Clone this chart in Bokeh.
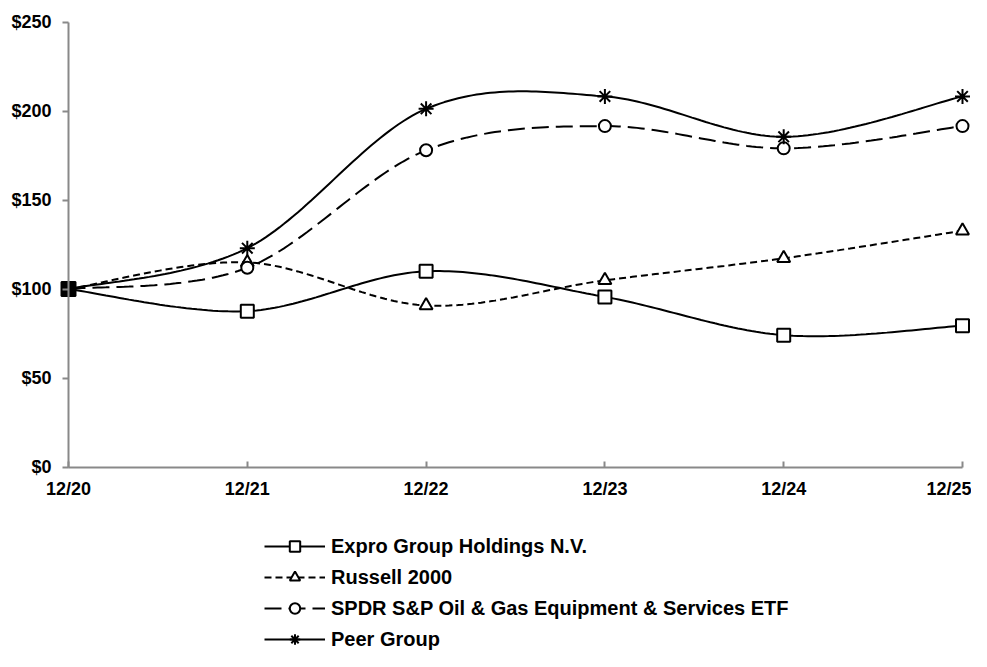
import numpy as np
from bokeh.plotting import figure
from bokeh.models import Range1d, FixedTicker, PrintfTickFormatter, Legend, LegendItem
from bokeh.embed import file_html
from bokeh.resources import INLINE

# ---- data ----
periods = ["12/20", "12/21", "12/22", "12/23", "12/24", "12/25"]
expro = [100, 87.6, 110.0, 95.6, 74.1, 79.4]
russell = [100, 115.0, 90.8, 104.9, 117.3, 132.8]
spdr = [100, 112.0, 178.0, 191.6, 179.1, 191.6]
peer = [100, 123.0, 201.3, 208.3, 185.6, 208.3]
names = ["Expro Group Holdings N.V.", "Russell 2000",
         "SPDR S&P Oil & Gas Equipment & Services ETF", "Peer Group"]
y_ticks = [0, 50, 100, 150, 200, 250]

xs = list(range(len(periods)))


def smooth(xv, yv, n=40):
    """Excel-like smoothed line: cubic Bezier segments with Catmull-Rom control points."""
    xv = np.asarray(xv, float)
    yv = np.asarray(yv, float)
    px = np.concatenate([[xv[0]], xv, [xv[-1]]])
    py = np.concatenate([[yv[0]], yv, [yv[-1]]])
    t = np.linspace(0, 1, n)
    ox, oy = [], []
    for i in range(len(xv) - 1):
        p0 = np.array([px[i + 1], py[i + 1]])
        p3 = np.array([px[i + 2], py[i + 2]])
        c1 = p0 + (np.array([px[i + 2], py[i + 2]]) - np.array([px[i], py[i]])) / 6
        c2 = p3 - (np.array([px[i + 3], py[i + 3]]) - np.array([px[i + 1], py[i + 1]])) / 6
        a = (1 - t) ** 3
        b = 3 * (1 - t) ** 2 * t
        c = 3 * (1 - t) * t ** 2
        d = t ** 3
        seg_x = a * p0[0] + b * c1[0] + c * c2[0] + d * p3[0]
        seg_y = a * p0[1] + b * c1[1] + c * c2[1] + d * p3[1]
        if i > 0:
            seg_x, seg_y = seg_x[1:], seg_y[1:]
        ox.extend(seg_x.tolist())
        oy.extend(seg_y.tolist())
    return ox, oy


FONT = "Liberation Sans"
AX = "#898989"

W, H = 971, 651
# pixel placement of the plotting area inside the canvas
X0_PX, X5_PX = 68.0, 962.0
Y0_PX, Y250_PX = 466.5, 21.7
sx = (X5_PX - X0_PX) / 5.0
sy = (Y0_PX - Y250_PX) / 250.0

p = figure(width=W, height=H, output_backend="svg", toolbar_location=None,
           x_range=Range1d(-X0_PX / sx, 5 + (W - X5_PX) / sx),
           y_range=Range1d(-(H - Y0_PX) / sy, 250 + Y250_PX / sy),
           min_border=0, min_border_left=0, min_border_right=0,
           min_border_top=0, min_border_bottom=0)
p.outline_line_color = None
p.xgrid.visible = False
p.ygrid.visible = False

# axes (pinned at 0 so the whole canvas is the drawing frame)
p.xaxis.fixed_location = 0
p.yaxis.fixed_location = 0
p.xaxis.bounds = (0, 5)
p.yaxis.bounds = (0, 250)
p.xaxis.ticker = FixedTicker(ticks=xs)
p.xaxis.major_label_overrides = {i: s for i, s in enumerate(periods)}
p.yaxis.ticker = FixedTicker(ticks=y_ticks)
p.yaxis.formatter = PrintfTickFormatter(format="$%d")
for ax in (p.xaxis, p.yaxis):
    ax.axis_line_color = AX
    ax.axis_line_width = 2
    ax.major_tick_line_color = AX
    ax.major_tick_line_width = 2
    ax.minor_tick_line_color = None
    ax.major_label_text_font = FONT
    ax.major_label_text_font_style = "bold"
    ax.major_label_text_font_size = "18px"
    ax.major_label_text_color = "black"
p.xaxis.major_tick_in = 6
p.xaxis.major_tick_out = 0
p.xaxis.major_label_standoff = 12
p.yaxis.major_tick_in = 0
p.yaxis.major_tick_out = 6
p.yaxis.major_label_standoff = 11

styles = [
    dict(data=expro, dash="solid", marker="square", size=13),
    dict(data=russell, dash="7 4", marker="triangle", size=13),
    dict(data=spdr, dash="17 7", marker="circle", size=12),
    dict(data=peer, dash="solid", marker="asterisk", size=15),
]

line_rs = []
for st in styles:
    lx, ly = smooth(xs, st["data"])
    r = p.line(lx, ly, line_color="black", line_width=2, line_dash=st["dash"])
    line_rs.append(r)

marker_rs = [None] * 4
for idx in [1, 2, 3, 0]:
    st = styles[idx]
    r = p.scatter(xs, st["data"], marker=st["marker"], size=st["size"],
                  line_color="black", line_width=2, fill_color="white")
    marker_rs[idx] = r

# the overlapping starting markers read as one solid black square
p.scatter(xs[:1], expro[:1], marker="square", size=14,
          line_color="black", line_width=2, fill_color="black")

items = [LegendItem(label=names[i], renderers=[line_rs[i], marker_rs[i]]) for i in range(4)]
legend = Legend(items=items, location=(264, -1), orientation="vertical",
                padding=0, margin=0, spacing=5, glyph_width=61, glyph_height=26,
                label_height=26, label_standoff=6,
                label_text_font=FONT, label_text_font_style="bold",
                label_text_font_size="20px", label_text_color="black",
                border_line_color=None, background_fill_alpha=0)
p.add_layout(legend)

open("out.html", "w").write(file_html(p, INLINE))
